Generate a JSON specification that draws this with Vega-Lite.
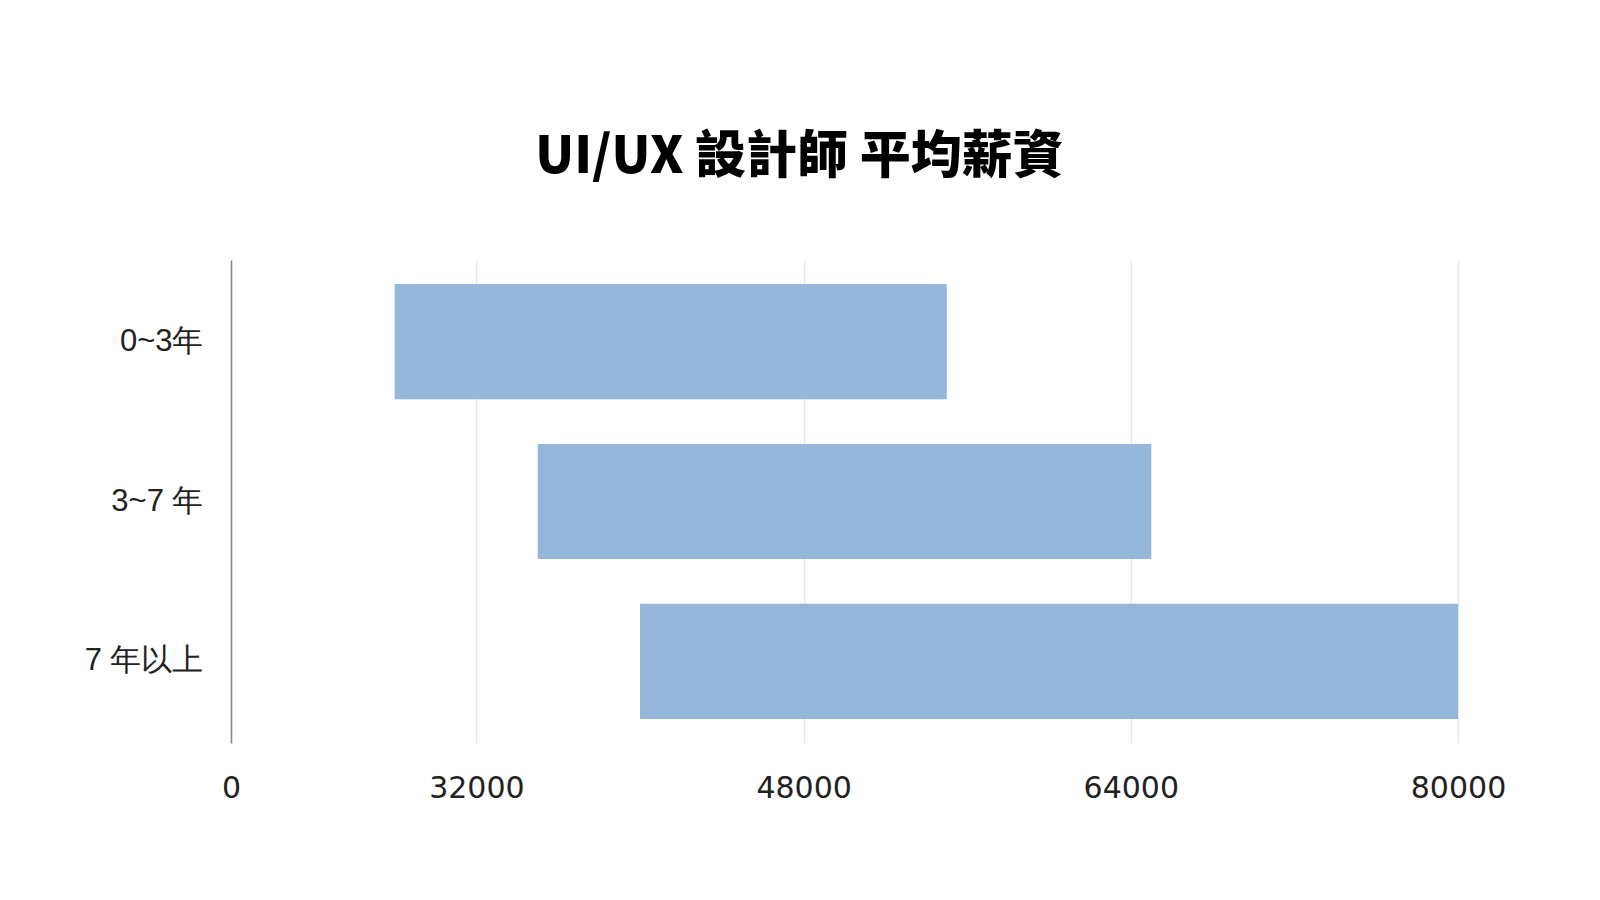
{
  "$schema": "https://vega.github.io/schema/vega-lite/v6.json",
  "description": "UI/UX designer average salary range by years of experience.",
  "autosize": "none",
  "padding": {"left": 231, "top": 260, "right": 142, "bottom": 157},
  "width": 1227,
  "height": 483,
  "background": "white",
  "title": {
    "text": "UI/UX 設計師 平均薪資",
    "font": "Noto Sans CJK TC",
    "fontSize": 51,
    "fontWeight": 900,
    "color": "#000000",
    "anchor": "middle",
    "baseline": "alphabetic",
    "frame": "group",
    "offset": 36,
    "dx": -45
  },
  "data": {
    "values": [
      {"年資": "0~3年", "min": 28000, "max": 55000},
      {"年資": "3~7 年", "min": 35000, "max": 65000},
      {"年資": "7 年以上", "min": 40000, "max": 80000}
    ]
  },
  "mark": {"type": "bar", "color": "#95b7da"},
  "encoding": {
    "y": {
      "field": "年資",
      "type": "nominal",
      "sort": null,
      "scale": {"paddingInner": 0.28, "paddingOuter": 0.15},
      "axis": {
        "title": null,
        "ticks": false,
        "grid": false,
        "domain": true,
        "domainColor": "#888888",
        "domainWidth": 1.5,
        "labelFont": "Liberation Sans",
        "labelFontSize": 31,
        "labelColor": "#222222",
        "labelPadding": 28
      }
    },
    "x": {
      "field": "min",
      "type": "quantitative",
      "scale": {"domain": [20000, 80000], "nice": false, "zero": false},
      "axis": {
        "title": null,
        "values": [20000, 32000, 48000, 64000, 80000],
        "format": "d",
        "labelExpr": "datum.value == 20000 ? '0' : datum.label",
        "ticks": false,
        "domain": false,
        "grid": true,
        "gridColor": "#e8e8e8",
        "gridWidth": 1.5,
        "labelFont": "DejaVu Sans",
        "labelFontSize": 30,
        "labelColor": "#222222",
        "labelPadding": 30,
        "labelFlush": false
      }
    },
    "x2": {"field": "max"}
  },
  "config": {"view": {"stroke": null}}
}
